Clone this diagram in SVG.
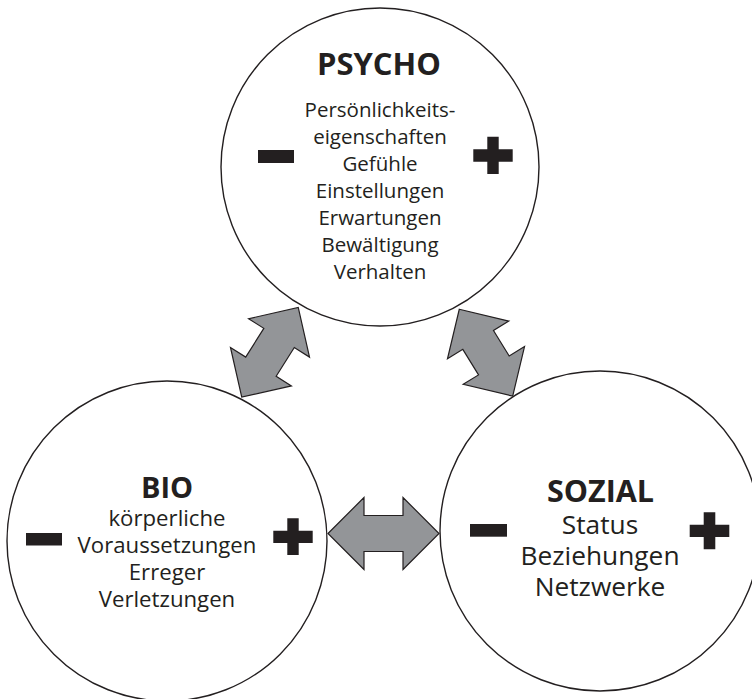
<svg xmlns="http://www.w3.org/2000/svg" width="752" height="699" viewBox="0 0 752 699">
<style>
.c{fill:#fff;stroke:#231f20;stroke-width:1.4}
.t{font-family:"Open Sans","Noto Sans","Liberation Sans",sans-serif;fill:#231f20;text-anchor:middle}
.h{font-weight:bold}
.s{fill:#231f20}
.a{fill:#939598;stroke:#231f20;stroke-width:1.2;stroke-linejoin:miter}
</style>
<rect width="752" height="699" fill="#fff"/>
<g id="psycho">
<circle class="c" cx="380" cy="167" r="159"/>
<text class="t h" x="379" y="75" font-size="31">PSYCHO</text>
<g class="t" font-size="20.5">
<text x="380" y="116.5">Persönlichkeits-</text>
<text x="380" y="143.5">eigenschaften</text>
<text x="380" y="170.5">Gefühle</text>
<text x="380" y="197.5">Einstellungen</text>
<text x="380" y="224.5">Erwartungen</text>
<text x="380" y="251.5">Bewältigung</text>
<text x="380" y="278.5">Verhalten</text>
</g>
<rect class="s" x="258" y="150" width="36" height="13"/>
<path class="s" d="M487.3,136.7h11.4v12.6h14v12.4h-14v12.3h-11.4v-12.3h-14v-12.4h14z"/>
</g>
<g id="bio">
<circle class="c" cx="167" cy="541" r="160"/>
<text class="t h" x="167" y="498" font-size="29">BIO</text>
<g class="t" font-size="22.2">
<text x="167" y="525.5">körperliche</text>
<text x="167" y="552.5">Voraussetzungen</text>
<text x="167" y="579.5">Erreger</text>
<text x="167" y="606.5">Verletzungen</text>
</g>
<rect class="s" x="26" y="533" width="36" height="12.5"/>
<path class="s" d="M287.3,518.3h11.4v12.4h14v12.4h-14v12h-11.4v-12h-14v-12.4h14z"/>
</g>
<g id="sozial">
<circle class="c" cx="600" cy="531" r="160"/>
<text class="t h" x="600.5" y="501.5" font-size="30.5">SOZIAL</text>
<g class="t" font-size="26.3">
<text x="600" y="534">Status</text>
<text x="600" y="565">Beziehungen</text>
<text x="600" y="596">Netzwerke</text>
</g>
<rect class="s" x="470" y="524" width="37" height="12.7"/>
<path class="s" d="M703.7,512.3h11.6v12.5h14v12.2h-14v12.3h-11.6v-12.3h-14v-12.2h14z"/>
</g>
<g id="connectors">
<path class="a" transform="translate(383.5,533.5)" d="M-55.5,0L-19.5,-36L-19.5,-18L19.5,-18L19.5,-36L55.5,0L19.5,36L19.5,18L-19.5,18L-19.5,36Z"/>
<path class="a" transform="translate(270,352.3) rotate(-57.8)" d="M-53,0L-17,-36L-17,-18L17,-18L17,-36L53,0L17,36L17,18L-17,18L-17,36Z"/>
<path class="a" transform="translate(486,352.7) rotate(58.4)" d="M-51,0L-15,-36L-15,-18L15,-18L15,-36L51,0L15,36L15,18L-15,18L-15,36Z"/>
</g>
</svg>
